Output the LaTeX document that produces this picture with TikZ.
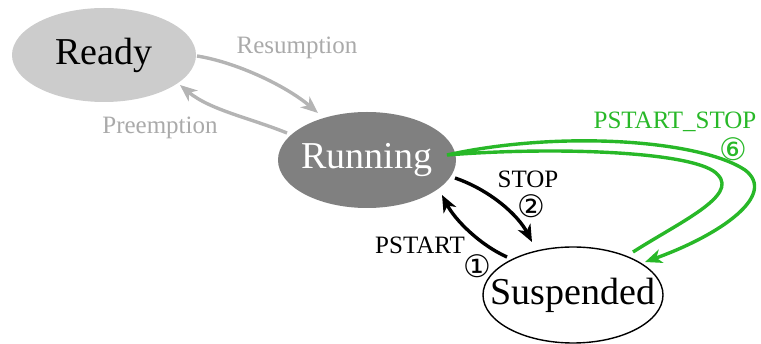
\documentclass[tikz,border=0pt]{standalone}
\usepackage{fontspec}
\setmainfont{Liberation Serif}
\newfontfamily\circfont{DejaVu Sans}
\usetikzlibrary{shapes.geometric,arrows.meta}

\definecolor{readyfill}{RGB}{204,204,204}
\definecolor{runfill}{RGB}{128,128,128}
\definecolor{fadeline}{RGB}{180,180,180}
\definecolor{fadetext}{RGB}{170,170,170}
\definecolor{loopgreen}{RGB}{40,184,40}

\tikzset{
  state/.style={ellipse, inner sep=0pt, font=\fontsize{38}{40}\selectfont},
  edge/.style={line width=3.4pt, -{Stealth[length=17pt,width=14pt,inset=5pt]}},
  lbl/.style={font=\fontsize{25}{27}\selectfont, inner sep=0pt},
  num/.style={font=\circfont\fontsize{31}{33}\selectfont, inner sep=0pt},
}
% zero-width text so the ellipse size comes from the minimum sizes only
\newcommand\statetext[1]{\makebox[0pt]{#1}}

\begin{document}
\begin{tikzpicture}[x=1pt, y=-1pt]
\useasboundingbox (0,0) rectangle (761,344);

% states
\node[state, fill=readyfill, minimum width=184pt, minimum height=94pt] (ready) at (104,55) {\statetext{Ready}};
\node[state, fill=runfill, text=white, minimum width=178pt, minimum height=96pt] (run) at (367,160) {\statetext{Running}};
\node[state, draw=black, line width=1.4pt, fill=white, minimum width=180pt, minimum height=96pt] (susp) at (573,295) {\statetext{Suspended}};

% anchor points on the state outlines
\coordinate (rdA) at (197,56);
\coordinate (rdB) at (180,85);
\coordinate (rnA) at (318,113);
\coordinate (rnB) at (287,133);
\coordinate (rnC) at (455,178);
\coordinate (rnD) at (442,195);
\coordinate (rnE) at (447,155);
\coordinate (spA) at (532,242);
\coordinate (spB) at (507,257);
\coordinate (spC) at (633,252);
\coordinate (spD) at (645,262);
\coordinate (lpL) at (718,175);
\coordinate (lpU) at (745,170);

% ready <-> running
\draw[edge, fadeline] (rdA) .. controls (235,62) and (285,85) .. (rnA);
\draw[edge, fadeline] (rnB) .. controls (250,118) and (210,110) .. (rdB);
\node[lbl, text=fadetext] (lres) at (297,48) {Resumption};
\node[lbl, text=fadetext] (lpre) at (160,128) {Preemption};

% running <-> suspended
\draw[edge, black] (rnC) .. controls (490,190) and (518,215) .. (spA);
\draw[edge, black] (spB) .. controls (480,245) and (455,220) .. (rnD);
\node[lbl] (lstop) at (528,179) {STOP};
\node[num] (nstop) at (531,206) {②};
\node[lbl] (lps) at (420,245) {PSTART};
\node[num] (nps) at (477,266) {①};

% combined transition passing by Running
\draw[edge, loopgreen]
  (spC) .. controls (680,222) and (738,196) .. (lpL)
        .. controls (700,152) and (560,146) .. (rnE)
        .. controls (560,130) and (700,140) .. (lpU)
        .. controls (778,195) and (720,235) .. (spD);
\node[lbl, text=loopgreen] (lpss) at (675,122) {PSTART\_STOP};
\node[num, text=loopgreen] (npss) at (733,149) {⑥};

\end{tikzpicture}
\end{document}
